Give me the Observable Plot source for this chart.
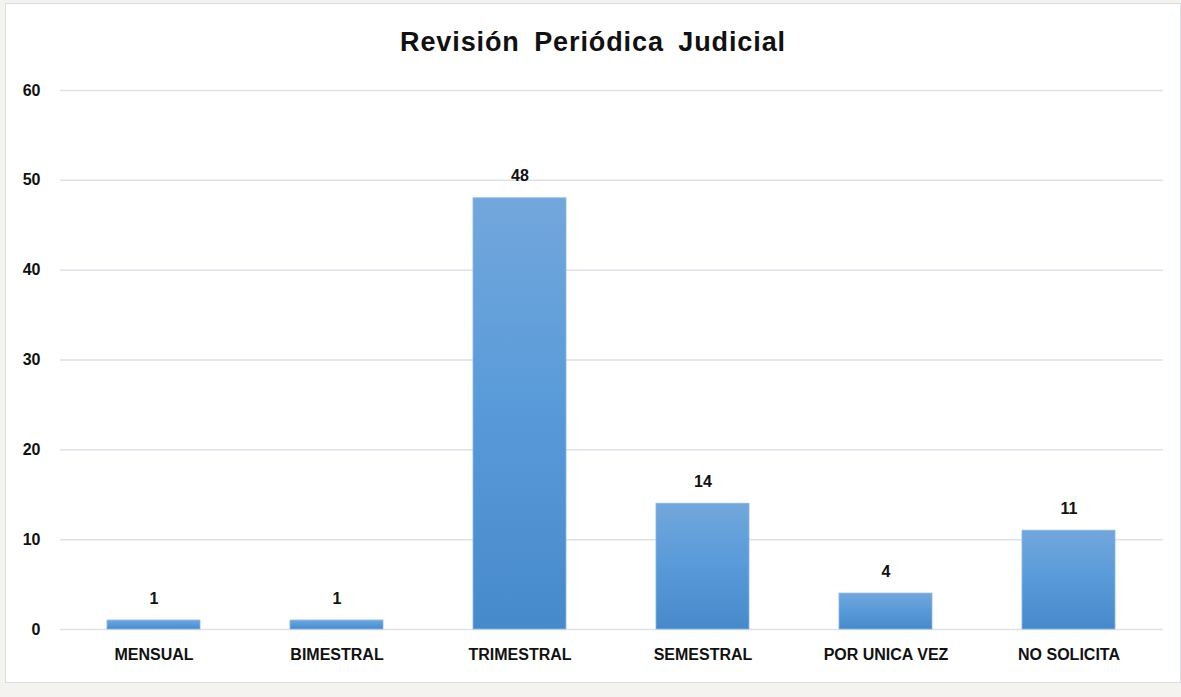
<!DOCTYPE html>
<html>
<head>
<meta charset="utf-8">
<script src="https://cdn.jsdelivr.net/npm/d3@7"></script>
<script src="https://cdn.jsdelivr.net/npm/@observablehq/plot@0.6"></script>
<style>
  html, body { margin: 0; padding: 0; background: #f4f3ef; width: 1181px; height: 697px; overflow: hidden; }
  #card { position: absolute; left: 5px; top: 3px; width: 1174px; height: 678px; background: #fff; border: 1px solid #dadde2; }
  #title { height: 76px; line-height: 76px; text-align: center; font-family: "Liberation Sans", Arial, sans-serif; font-weight: bold; font-size: 27px; letter-spacing: 0.9px; word-spacing: 6px; color: #111; }
  #chart svg { display: block; }
</style>
</head>
<body>
<div id="card">
  <div id="title">Revisión Periódica Judicial</div>
  <div id="chart"></div>
</div>
<script>
const categories = ["MENSUAL", "BIMESTRAL", "TRIMESTRAL", "SEMESTRAL", "POR UNICA VEZ", "NO SOLICITA"];
const values = [1, 1, 48, 14, 4, 11];
const yTicks = [0, 10, 20, 30, 40, 50, 60];

const data = categories.map((c, i) => ({category: c, value: values[i]}));

const plot = Plot.plot({
  width: 1174,
  height: 600,
  marginTop: 10,
  marginBottom: 51,
  marginLeft: 54,
  marginRight: 17,
  style: {fontFamily: "Liberation Sans, Arial, sans-serif", fontSize: "16px", fontWeight: "bold", color: "#111", background: "transparent"},
  x: {domain: categories, paddingInner: 0.49, paddingOuter: 0.245, label: null, tickSize: 0, tickPadding: 19},
  y: {domain: [0, 60], ticks: yTicks, label: null, tickSize: 0, tickPadding: 20, grid: false},
  marks: [
    Plot.ruleY(yTicks, {stroke: "#dde2e8", strokeWidth: 1.5, strokeOpacity: 1}),
    Plot.barY(data, {x: "category", y: "value", fill: "url(#barGrad)", stroke: "#8ab6e2", strokeWidth: 0.8}),
    Plot.text(data, {x: "category", y: "value", text: d => String(d.value), dy: -22, fontSize: 16, fontWeight: "bold", fill: "#111"}),
    Plot.axisX({tickSize: 0, tickPadding: 19, fontSize: 16, fontWeight: "bold"}),
    Plot.axisY({ticks: yTicks, tickSize: 0, tickPadding: 20, fontSize: 16, fontWeight: "bold"})
  ]
});

const svg = d3.select(plot);
const defs = svg.insert("defs", ":first-child");
const grad = defs.append("linearGradient").attr("id", "barGrad").attr("x1", 0).attr("y1", 0).attr("x2", 0).attr("y2", 1);
grad.append("stop").attr("offset", "0%").attr("stop-color", "#72a7dc");
grad.append("stop").attr("offset", "50%").attr("stop-color", "#589ad9");
grad.append("stop").attr("offset", "100%").attr("stop-color", "#478acb");

document.getElementById("chart").appendChild(plot);
</script>
</body>
</html>
